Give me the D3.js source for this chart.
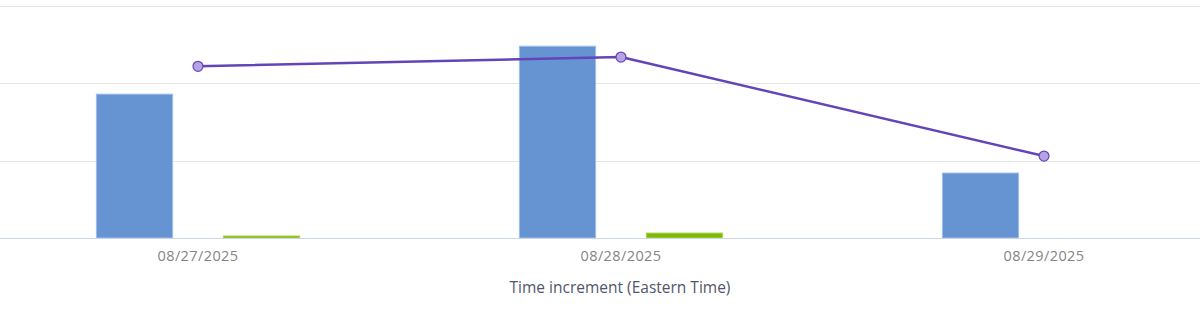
<!DOCTYPE html>
<html>
<head>
<meta charset="utf-8">
<script src="https://cdn.jsdelivr.net/npm/d3@7"></script>
<style>
  body { margin: 0; background: #fff; }
  svg { display: block; font-family: 'Open Sans', sans-serif; }
</style>
</head>
<body>
<div id="chart"></div>
<script>
// data
const categories = ['08/27/2025', '08/28/2025', '08/29/2025'];
const barSeries = ['blue', 'green'];
const blueValues = [93, 124, 42];
const greenValues = [1.3, 3.2, 0];
const lineValues = [111, 117, 53];
const yTicks = [0, 50, 100, 150];

const width = 1200, height = 310;
const margin = {top: 6, bottom: 72};

const svg = d3.select('#chart').append('svg')
  .attr('width', width)
  .attr('height', height);

// x scale (plot is wider than the view, chart is cropped on both sides)
const x = d3.scaleBand()
  .domain(categories)
  .range([-13.5, 1255.5]);

const xSub = d3.scaleBand()
  .domain(barSeries)
  .range([-127, 127])
  .paddingInner(0.4)
  .paddingOuter(0.2);

const y = d3.scaleLinear()
  .domain([0, 150])
  .range([height - margin.bottom, margin.top]);

const color = {blue: '#6694d2', green: '#7cb70a'};
const stroke = {blue: '#9dbde9', green: '#a9d64a'};

// grid
svg.append('g')
  .attr('class', 'grid')
  .selectAll('line')
  .data(yTicks.slice(1))
  .enter().append('line')
    .attr('x1', 0)
    .attr('x2', width)
    .attr('y1', d => Math.round(y(d)) + 0.5)
    .attr('y2', d => Math.round(y(d)) + 0.5)
    .attr('stroke', '#e6e6e6')
    .attr('stroke-width', 1);

// bars
const rows = [];
categories.forEach((c, i) => {
  rows.push({cat: c, s: 'blue', v: blueValues[i]});
  rows.push({cat: c, s: 'green', v: greenValues[i]});
});

svg.append('g')
  .attr('class', 'bars')
  .selectAll('rect')
  .data(rows.filter(d => d.v > 0))
  .enter().append('rect')
    .attr('x', d => x(d.cat) + x.bandwidth() / 2 + xSub(d.s))
    .attr('y', d => y(d.v))
    .attr('width', xSub.bandwidth())
    .attr('height', d => y(0) - y(d.v))
    .attr('fill', d => color[d.s])
    .attr('stroke', d => stroke[d.s])
    .attr('stroke-width', 1);

// baseline
const xAxis = d3.axisBottom(x).tickSize(0).tickPadding(13);
const gx = svg.append('g')
  .attr('class', 'axis axis--x')
  .attr('transform', 'translate(0,' + y(0) + ')')
  .call(xAxis);
gx.select('.domain').remove();
gx.append('line')
  .attr('x1', 0)
  .attr('x2', width)
  .attr('y1', 0.5)
  .attr('y2', 0.5)
  .attr('stroke', '#ccd6eb');
gx.selectAll('text')
  .attr('fill', '#858585')
  .style('font-size', '14.5px')
  .style('letter-spacing', '0.4px')
  .style('font-family', "'Open Sans', sans-serif");

// axis title
svg.append('text')
  .attr('x', 620)
  .attr('y', 293)
  .attr('text-anchor', 'middle')
  .attr('fill', '#50566a')
  .style('font-size', '15.5px')
  .text('Time increment (Eastern Time)');

// line
const line = d3.line()
  .x((d, i) => x(categories[i]) + x.bandwidth() / 2)
  .y(d => y(d));

svg.append('path')
  .datum(lineValues)
  .attr('d', line)
  .attr('fill', 'none')
  .attr('stroke', '#6444b8')
  .attr('stroke-width', 2.5)
  .attr('stroke-linejoin', 'round');

svg.append('g')
  .attr('class', 'dots')
  .selectAll('circle')
  .data(lineValues)
  .enter().append('circle')
    .attr('cx', (d, i) => x(categories[i]) + x.bandwidth() / 2)
    .attr('cy', d => y(d))
    .attr('r', 5)
    .attr('fill', '#b7a3e3')
    .attr('stroke', '#6444b8')
    .attr('stroke-width', 1.2);
</script>
</body>
</html>
